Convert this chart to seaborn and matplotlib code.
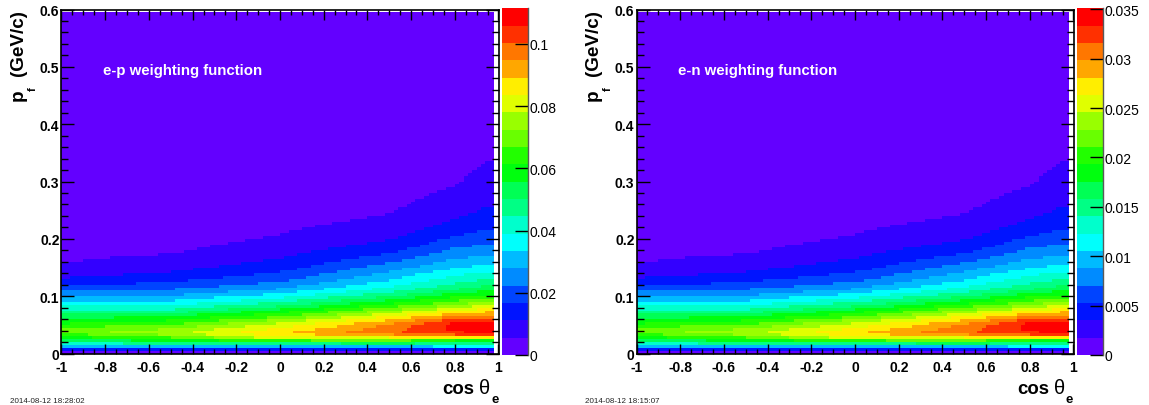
import colorsys
import numpy as np
import matplotlib
matplotlib.use("Agg")
import matplotlib.pyplot as plt
import seaborn as sns
from matplotlib.colors import ListedColormap

# -----------------------------
# Data
# -----------------------------
# histogram binning: cos(theta_e) in 100 bins, p_f in 120 bins
x_range = (-1.0, 1.0)
y_range = (0.0, 0.6)
n_xbins = 100
n_ybins = 120

# columns where the colour levels were read (cos theta_e)
node_x = [-1.0, -0.5, 0.0, 0.5, 0.8, 0.96]
# p_f positions (GeV/c) where the level was read in each column
sample_y = [0.0025, 0.0075, 0.0125, 0.0175, 0.0225, 0.0275, 0.0325, 0.0375,
            0.045, 0.055, 0.065, 0.075, 0.085, 0.095, 0.11, 0.125, 0.14,
            0.16, 0.18, 0.2, 0.23, 0.26, 0.3, 0.34, 0.4, 0.6]

# content in units of one palette step (zmax / 20), one list per column
ep_levels = [
    [0.5, 2.5, 5.3, 7.6, 9.3, 10.6, 11.6, 12.5, 12.0, 10.6, 9.4, 8.1, 6.8, 5.6,
     4.1, 2.4, 1.6, 0.95, 0.75, 0.6, 0.45, 0.35, 0.25, 0.2, 0.15, 0.05],
    [0.5, 2.5, 5.5, 8.3, 10.4, 12.0, 13.2, 13.6, 12.9, 11.4, 10.0, 8.3, 7.0, 5.6,
     4.2, 3.0, 2.1, 1.4, 0.85, 0.65, 0.5, 0.4, 0.3, 0.22, 0.15, 0.05],
    [0.5, 2.5, 5.5, 8.6, 11.8, 14.6, 15.6, 15.8, 15.0, 13.8, 11.8, 10.4, 8.7, 7.3,
     5.3, 4.0, 3.1, 2.2, 1.6, 1.1, 0.75, 0.55, 0.4, 0.3, 0.2, 0.05],
    [0.5, 2.5, 5.6, 9.3, 12.5, 15.0, 16.9, 17.8, 17.5, 16.6, 14.9, 13.2, 11.3, 9.7,
     7.6, 6.2, 5.2, 3.9, 2.7, 1.95, 1.2, 0.8, 0.55, 0.4, 0.25, 0.07],
    [0.5, 2.5, 6.2, 8.6, 11.0, 15.2, 18.0, 18.9, 19.4, 19.0, 16.9, 15.0, 13.0, 11.6,
     9.2, 7.8, 6.7, 5.3, 4.2, 3.2, 2.1, 1.5, 0.9, 0.6, 0.4, 0.1],
    [0.5, 2.5, 6.5, 8.6, 10.6, 15.5, 18.5, 19.3, 19.8, 19.4, 17.3, 15.7, 14.2, 12.0,
     10.0, 8.4, 7.2, 5.7, 4.6, 3.6, 2.6, 1.95, 1.5, 0.95, 0.6, 0.15],
]
en_levels = [row[:] for row in ep_levels]

ep_zmax = 0.1114
en_zmax = 0.0351

ep_ticks = [0, 0.02, 0.04, 0.06, 0.08, 0.1]
en_ticks = [0, 0.005, 0.01, 0.015, 0.02, 0.025, 0.03, 0.035]

ep_label = "e-p weighting function"
en_label = "e-n weighting function"
ep_date = "2014-08-12 18:28:02"
en_date = "2014-08-12 18:15:07"

x_major = [-1, -0.8, -0.6, -0.4, -0.2, 0, 0.2, 0.4, 0.6, 0.8, 1]
y_major = [0, 0.1, 0.2, 0.3, 0.4, 0.5, 0.6]

# -----------------------------
# ROOT "pretty" palette, 20 contour levels
# -----------------------------
colors = []
for k in range(20):
    idx = int((k + 0.99) * 50 / 20)
    hue = 280 - (idx + 1) * 5.6
    colors.append(colorsys.hls_to_rgb(hue / 360.0, 0.5, 1.0))
cmap = ListedColormap(colors)


def build_grid(levels, zmax):
    xc = x_range[0] + (np.arange(n_xbins) + 0.5) * (x_range[1] - x_range[0]) / n_xbins
    yc = y_range[0] + (np.arange(n_ybins) + 0.5) * (y_range[1] - y_range[0]) / n_ybins
    lv = np.array(levels)
    grid = np.zeros((n_ybins, n_xbins))
    for i, x in enumerate(xc):
        col = [np.interp(x, node_x, lv[:, j]) for j in range(len(sample_y))]
        grid[:, i] = np.exp(np.interp(yc, sample_y, np.log(col)))
    grid = grid * zmax / 20.0
    # empty bins are not painted
    grid[:, -1] = np.nan
    grid[-1, :] = np.nan
    return grid


def fmt(v):
    return "%g" % v


W, H = 1149, 406
plt.rcParams['font.family'] = ['Liberation Sans', 'DejaVu Sans']
fig = plt.figure(figsize=(W / 100, H / 100), dpi=100)
fig.patch.set_facecolor('white')

px = lambda v: v / W
py = lambda v: 1 - v / H

panels = [(ep_levels, ep_zmax, ep_ticks, ep_label, ep_date, 0),
          (en_levels, en_zmax, en_ticks, en_label, en_date, 575)]

for levels, zmax, cticks, label, date, off in panels:
    ax = fig.add_axes([px(61.5 + off), py(354.5), px(437), (354.5 - 10.5) / H])
    cax = fig.add_axes([px(502 + off), py(356), px(26), (356 - 9.3) / H])
    grid = build_grid(levels, zmax)
    sns.heatmap(grid, ax=ax, cmap=cmap, vmin=0, vmax=zmax, cbar_ax=cax,
                xticklabels=False, yticklabels=False)
    ax.set_xlim(0, n_xbins)
    ax.set_ylim(0, n_ybins)
    ax.set_facecolor('white')
    for sp in ax.spines.values():
        sp.set_visible(True)
        sp.set_linewidth(1.2)
        sp.set_color('black')

    sx = n_xbins / (x_range[1] - x_range[0])
    sy = n_ybins / (y_range[1] - y_range[0])
    ax.set_xticks([(v - x_range[0]) * sx for v in x_major])
    ax.set_xticklabels([fmt(v) for v in x_major], fontsize=10, fontweight='bold')
    ax.set_xticks([(v - x_range[0]) * sx for v in np.arange(-1, 1.001, 0.05)], minor=True)
    ax.set_yticks([v * sy for v in y_major])
    ax.set_yticklabels([fmt(v) for v in y_major], fontsize=10, fontweight='bold',
                       rotation=0)
    ax.set_yticks([v * sy for v in np.arange(0, 0.6001, 0.02)], minor=True)
    ax.tick_params(axis='x', which='major', direction='in', length=7.4, width=1,
                   top=True, bottom=True, pad=4.5)
    ax.tick_params(axis='x', which='minor', direction='in', length=3.7, width=1,
                   top=True, bottom=True)
    ax.tick_params(axis='y', which='major', direction='in', length=9.4, width=1,
                   left=True, right=True, pad=1.5)
    ax.tick_params(axis='y', which='minor', direction='in', length=4.7, width=1,
                   left=True, right=True)
    ax.set_xlabel("")
    ax.set_ylabel("")

    # colour bar
    cbar = ax.collections[0].colorbar
    cbar.outline.set_visible(False)
    cbar.set_ticks(cticks)
    cbar.set_ticklabels([fmt(v) for v in cticks])
    cax.tick_params(axis='y', direction='in', length=9.4, width=1, right=True,
                    left=False, labelsize=10, pad=1)
    cax.plot([1, 1], [0, 1], transform=cax.transAxes, color='0.35', lw=1,
             clip_on=False)

    # texts
    fig.text(px(103 + off), py(75), label, color='white', fontsize=10.8,
             fontweight='bold', ha='left', va='baseline')
    fig.text(px(474 + off), py(394), "cos", fontsize=13.4, fontweight='bold',
             ha='right', va='baseline')
    fig.text(px(479 + off), py(394), "\u03b8", fontsize=14.5, ha='left',
             va='baseline')
    fig.text(px(491 + off), py(403), "e", fontsize=9.5, fontweight='bold',
             ha='left', va='baseline')
    fig.text(px(23 + off), py(10.5), "(GeV/c)", fontsize=13.6, fontweight='bold',
             rotation=90, rotation_mode='anchor', ha='right', va='baseline')
    fig.text(px(23 + off), py(101), "p", fontsize=13.6, fontweight='bold',
             rotation=90, rotation_mode='anchor', ha='left', va='baseline')
    fig.text(px(36 + off), py(91), "f", fontsize=8, fontweight='bold',
             rotation=90, rotation_mode='anchor', ha='left', va='baseline')
    fig.text(px(10 + off), py(403), date, fontsize=5.8, color='#222222',
             ha='left', va='baseline')

fig.savefig("out.png", dpi=100)
